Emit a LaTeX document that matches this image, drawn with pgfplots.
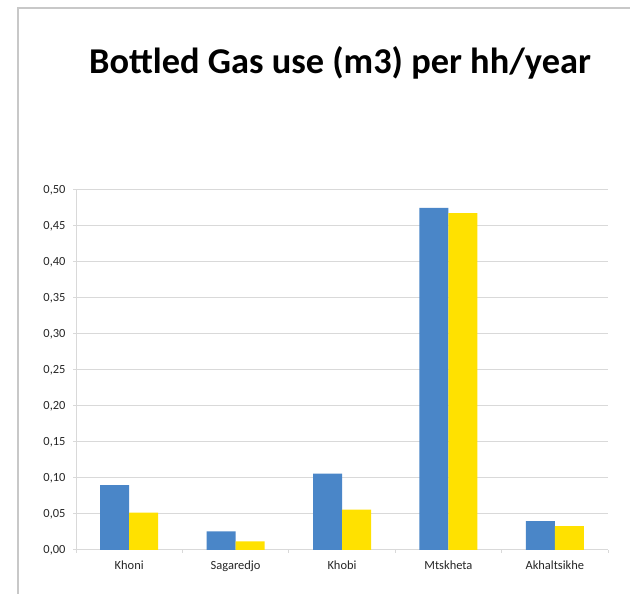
\documentclass[border=0pt]{standalone}
\usepackage{fontspec}
\setmainfont{Carlito}
\usepackage{pgfplots}
\pgfplotsset{compat=1.18}
\definecolor{barblue}{HTML}{4A86C8}
\definecolor{baryellow}{HTML}{FFE100}
\definecolor{gridgray}{HTML}{D9D9D9}
\definecolor{framegray}{HTML}{C8C8C8}
\begin{document}
\begin{tikzpicture}[x=1bp,y=1bp]
\path[use as bounding box] (0,0) rectangle (630,594);
\fill[white] (0,0) rectangle (630,594);
\draw[framegray,line width=1.2bp] (18,0) -- (18,586) -- (630,586);
\node[font=\bfseries\fontsize{36.5}{40}\selectfont] at (340,531) {Bottled Gas use (m3) per hh/year};
\begin{axis}[
  at={(76bp,44bp)}, anchor=south west,
  scale only axis, width=532bp, height=360bp,
  ybar=0pt, bar width=29bp,
  xmin=-0.5, xmax=4.5, ymin=0, ymax=0.5,
  xtick={0,1,2,3,4},
  xticklabels={Khoni,Sagaredjo,Khobi,Mtskheta,Akhaltsikhe},
  major x tick style={draw=none},
  minor xtick={-0.5,0.5,1.5,2.5,3.5,4.5},
  minor x tick style={gridgray, line width=1bp},
  minor tick length=3bp,
  ytick={0,0.05,...,0.51},
  ymajorgrids, grid style={gridgray, line width=1bp},
  major y tick style={gridgray, line width=1bp},
  major tick length=3bp,
  tick align=outside,
  axis x line*=bottom, axis y line*=left,
  axis line style={gridgray, line width=1bp},
  /pgf/number format/assume math mode=true,
  yticklabel={\pgfmathprintnumber[fixed, fixed zerofill, precision=2, use comma]{\tick}},
  scaled y ticks=false,
  ticklabel style={font=\fontsize{12.5}{14}\selectfont, text=black!85},
  xticklabel style={yshift=-4bp},
  yticklabel style={xshift=-4bp},
  clip=false,
]
\addplot[fill=barblue, draw=none] coordinates {(0,0.090) (1,0.026) (2,0.106) (3,0.475) (4,0.040)};
\addplot[fill=baryellow, draw=none] coordinates {(0,0.052) (1,0.012) (2,0.056) (3,0.468) (4,0.033)};
\end{axis}
\end{tikzpicture}
\end{document}
